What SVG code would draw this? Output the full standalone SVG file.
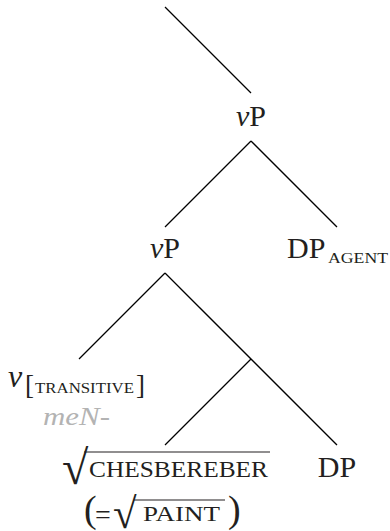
<svg xmlns="http://www.w3.org/2000/svg" width="390" height="531" viewBox="0 0 390 531">
  <style>
    .edge { stroke: #000; stroke-width: 1.3; fill: none; }
    .lbl { font-family: "Liberation Serif", "DejaVu Serif", serif; fill: #231f20; }
    .big { font-size: 30px; }
    .sc { font-size: 15px; }
    .it { font-style: italic; }
    .gloss { font-family: "Liberation Serif", serif; font-style: italic; font-size: 26px; fill: #b3b3b3; }
    .bar { stroke: #231f20; stroke-width: 1.2; }
  </style>
  <rect width="390" height="531" fill="#fff"/>

  <g id="connectors">
    <line class="edge" x1="165" y1="7" x2="251" y2="93"/>
    <line class="edge" x1="251" y1="141" x2="165" y2="227"/>
    <line class="edge" x1="251" y1="141" x2="337" y2="227"/>
    <line class="edge" x1="165" y1="273" x2="79" y2="359"/>
    <line class="edge" x1="165" y1="273" x2="337" y2="445"/>
    <line class="edge" x1="251" y1="359" x2="165" y2="445"/>
  </g>

  <g id="vP-top">
    <text class="lbl big" x="251" y="126" text-anchor="middle"><tspan class="it">v</tspan>P</text>
  </g>

  <g id="vP-low">
    <text class="lbl big" x="165" y="258" text-anchor="middle"><tspan class="it">v</tspan>P</text>
  </g>

  <g id="DP-agent">
    <text class="lbl big" x="287" y="258">DP</text>
    <text class="lbl sc" x="328" y="263" textLength="60" lengthAdjust="spacingAndGlyphs">AGENT</text>
  </g>

  <g id="v-transitive">
    <text class="lbl it" x="8" y="387" font-size="32">v</text>
    <text class="lbl" x="25" y="394" font-size="27">[</text>
    <text class="lbl" x="35" y="393" font-size="14" textLength="99" lengthAdjust="spacingAndGlyphs">TRANSITIVE</text>
    <text class="lbl" x="136" y="394" font-size="27">]</text>
    <text class="gloss" x="43" y="425" textLength="67" lengthAdjust="spacingAndGlyphs">meN-</text>
  </g>

  <g id="root">
    <text class="lbl" x="62" y="484" font-size="48">√</text>
    <line class="bar" x1="84" y1="452" x2="270" y2="452"/>
    <text class="lbl" x="89" y="477" font-size="23" textLength="179" lengthAdjust="spacingAndGlyphs">CHESBEREBER</text>
    <text class="lbl" x="84" y="522" font-size="38">(</text>
    <text class="lbl" x="95" y="524" font-size="28">=</text>
    <text class="lbl" x="113" y="528" font-size="43">√</text>
    <line class="bar" x1="134" y1="500" x2="225" y2="500"/>
    <text class="lbl" x="143" y="521" font-size="21" textLength="77" lengthAdjust="spacingAndGlyphs">PAINT</text>
    <text class="lbl" x="228" y="522" font-size="38">)</text>
  </g>

  <g id="DP-obj">
    <text class="lbl big" x="337" y="477" text-anchor="middle">DP</text>
  </g>
</svg>
